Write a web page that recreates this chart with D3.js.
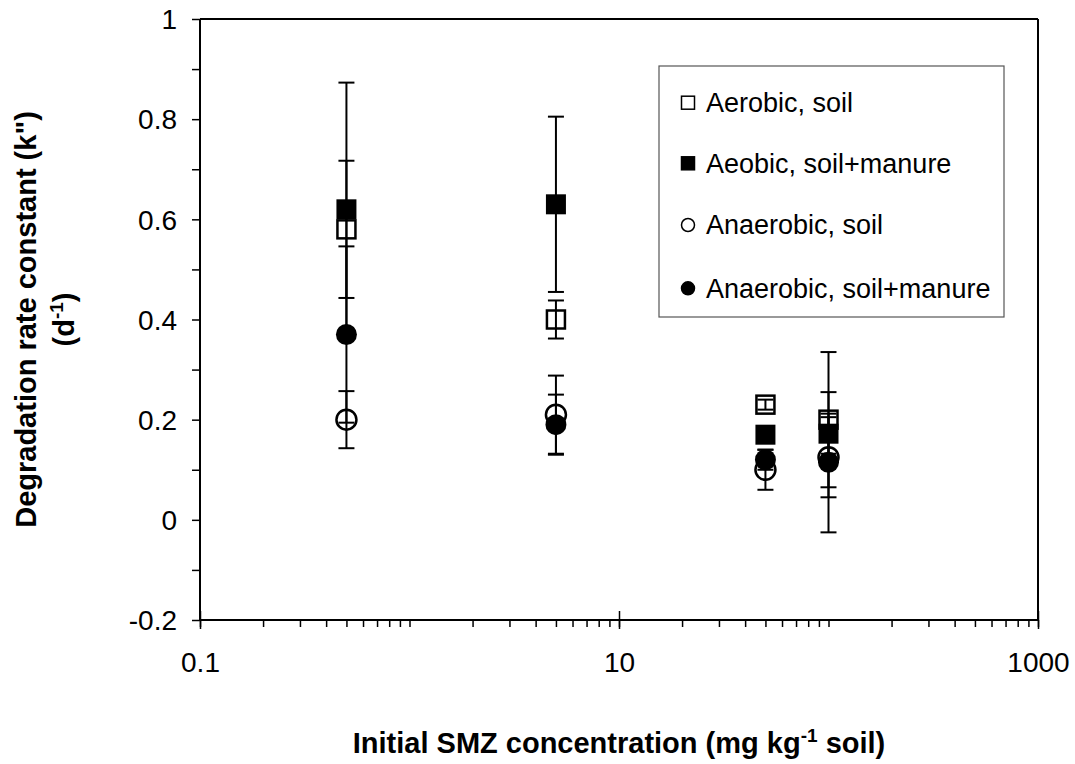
<!DOCTYPE html>
<html>
<head>
<meta charset="utf-8">
<script src="https://cdn.jsdelivr.net/npm/d3@7"></script>
<style>
  html, body { margin: 0; padding: 0; background: #fff; }
  svg { display: block; }
  text { font-family: "Liberation Sans", Arial, sans-serif; fill: #000; }
</style>
</head>
<body>
<svg id="chart" width="1075" height="764"></svg>
<script>
// ---- data ----
const concentrations = [0.5, 5, 50, 100];
const seriesNames = ["Aerobic, soil", "Aeobic, soil+manure", "Anaerobic, soil", "Anaerobic, soil+manure"];
const aerobicSoil = [0.58, 0.40, 0.23, 0.20];
const aerobicSoilErr = [0.137, 0.038, 0.01, 0.135];
const aerobicManure = [0.62, 0.63, 0.17, 0.172];
const aerobicManureErr = [0.253, 0.175, 0.015, 0.04];
const anaerobicSoil = [0.20, 0.21, 0.10, 0.125];
const anaerobicSoilErr = [0.057, 0.078, 0.04, 0.08];
const anaerobicManure = [0.37, 0.19, 0.12, 0.115];
const anaerobicManureErr = [0.176, 0.06, 0.02, 0.14];
const xTickLabels = [0.1, 10, 1000];
const yTickLabels = [-0.2, 0, 0.2, 0.4, 0.6, 0.8, 1];

const seriesValues = [aerobicSoil, aerobicManure, anaerobicSoil, anaerobicManure];
const seriesErrors = [aerobicSoilErr, aerobicManureErr, anaerobicSoilErr, anaerobicManureErr];
const seriesShapes = ["square", "square", "circle", "circle"];
const seriesFilled = [false, true, false, true];

// ---- layout ----
const svg = d3.select("#chart");
const pL = 200, pR = 1038, pT = 19, pB = 620;
const x = d3.scaleLog().domain([0.1, 1000]).range([pL, pR]);
const y = d3.scaleLinear().domain([-0.2, 1]).range([pB, pT]);

// plot frame (top & right)
svg.append("line").attr("x1", pL).attr("x2", pR).attr("y1", pT).attr("y2", pT)
  .attr("stroke", "#000").attr("stroke-width", 2);
svg.append("line").attr("x1", pR).attr("x2", pR).attr("y1", pT).attr("y2", pB)
  .attr("stroke", "#000").attr("stroke-width", 2);

// y axis
const yTicks = d3.range(-2, 11).map(d => d / 10);
const yAxis = d3.axisLeft(y).tickValues(yTicks).tickSize(8).tickPadding(15)
  .tickFormat(d => yTickLabels.some(v => Math.abs(v - d) < 1e-9) ? String(+d.toFixed(1)) : "");
const gy = svg.append("g").attr("transform", `translate(${pL},0)`).call(yAxis);
gy.select(".domain").attr("stroke", "#000").attr("stroke-width", 2).attr("d", `M0,${pT}V${pB}`);
gy.selectAll(".tick line").attr("stroke", "#000").attr("stroke-width", 1.5);
gy.selectAll(".tick text").style("font-size", "28px").attr("dy", "0.35em");

// x axis
const minor = [];
for (let e = -1; e < 3; e++) for (let m = 1; m < 10; m++) minor.push(m * Math.pow(10, e));
minor.push(1000);
const xAxis = d3.axisBottom(x).tickValues(minor).tickSize(7).tickPadding(0)
  .tickFormat(d => xTickLabels.some(v => Math.abs(v - d) / v < 1e-6) ? String(d) : "");
const gx = svg.append("g").attr("transform", `translate(0,${pB})`).call(xAxis);
gx.select(".domain").attr("stroke", "#000").attr("stroke-width", 2).attr("d", `M${pL},0H${pR}`);
gx.selectAll(".tick line").attr("stroke", "#000").attr("stroke-width", 1.5);
gx.selectAll(".tick text").style("font-size", "28px").attr("y", 52).attr("dy", 0);
gx.selectAll(".tick").filter(d => xTickLabels.some(v => Math.abs(v - d) / v < 1e-6))
  .append("line").attr("y1", -9).attr("y2", 9).attr("stroke", "#000").attr("stroke-width", 1.5);

// ---- series ----
const capW = 8;
const mSize = 20;
seriesValues.forEach((vals, s) => {
  const g = svg.append("g");
  const pts = concentrations.map((c, i) => ({ c, v: vals[i], e: seriesErrors[s][i] }));
  const eb = g.selectAll(".eb").data(pts).join("g");
  eb.append("line").attr("x1", d => x(d.c)).attr("x2", d => x(d.c))
    .attr("y1", d => y(d.v + d.e)).attr("y2", d => y(d.v - d.e))
    .attr("stroke", "#000").attr("stroke-width", 2);
  [1, -1].forEach(sg => {
    eb.append("line").attr("x1", d => x(d.c) - capW).attr("x2", d => x(d.c) + capW)
      .attr("y1", d => y(d.v + sg * d.e)).attr("y2", d => y(d.v + sg * d.e))
      .attr("stroke", "#000").attr("stroke-width", 2);
  });
  if (seriesShapes[s] === "square") {
    const sz = seriesFilled[s] ? mSize : mSize - 2;
    g.selectAll(".m").data(pts).join("rect")
      .attr("x", d => x(d.c) - sz / 2).attr("y", d => y(d.v) - sz / 2)
      .attr("width", sz).attr("height", sz)
      .attr("fill", seriesFilled[s] ? "#000" : "none")
      .attr("stroke", "#000").attr("stroke-width", seriesFilled[s] ? 0 : 2.5);
  } else {
    const r = seriesFilled[s] ? mSize / 2 + 0.5 : mSize / 2;
    g.selectAll(".m").data(pts).join("circle")
      .attr("cx", d => x(d.c)).attr("cy", d => y(d.v)).attr("r", r)
      .attr("fill", seriesFilled[s] ? "#000" : "none")
      .attr("stroke", "#000").attr("stroke-width", seriesFilled[s] ? 0 : 2.5);
  }
});

// ---- legend ----
const lg = svg.append("g");
lg.append("rect").attr("x", 659).attr("y", 66).attr("width", 345).attr("height", 251)
  .attr("fill", "#fff").attr("stroke", "#555").attr("stroke-width", 1.2);
const legendY = [102.7, 163.3, 225, 288.3];
seriesNames.forEach((name, s) => {
  const cy = legendY[s], cx = 688, ls = 13;
  if (seriesShapes[s] === "square") {
    lg.append("rect").attr("x", cx - ls / 2).attr("y", cy - ls / 2).attr("width", ls).attr("height", ls)
      .attr("fill", seriesFilled[s] ? "#000" : "#fff").attr("stroke", "#000").attr("stroke-width", 1.5);
  } else {
    lg.append("circle").attr("cx", cx).attr("cy", cy).attr("r", ls / 2)
      .attr("fill", seriesFilled[s] ? "#000" : "#fff").attr("stroke", "#000").attr("stroke-width", 1.5);
  }
  lg.append("text").attr("x", 706).attr("y", cy).attr("dy", "0.35em")
    .style("font-size", "27px").text(name);
});

// ---- axis titles ----
const xt = svg.append("text").attr("x", (pL + pR) / 2).attr("y", 753)
  .attr("text-anchor", "middle").style("font-size", "29px").style("font-weight", "bold");
xt.append("tspan").text("Initial SMZ concentration (mg kg");
xt.append("tspan").attr("dy", -11).style("font-size", "19px").text("-1");
xt.append("tspan").attr("dy", 11).text(" soil)");

const cyT = (pT + pB) / 2;
svg.append("text").attr("transform", `translate(36,${cyT}) rotate(-90)`)
  .attr("text-anchor", "middle").style("font-size", "29px").style("font-weight", "bold")
  .text("Degradation rate constant (k\")");
const yt2 = svg.append("text").attr("transform", `translate(74,${cyT}) rotate(-90)`)
  .attr("text-anchor", "middle").style("font-size", "29px").style("font-weight", "bold");
yt2.append("tspan").text("(d");
yt2.append("tspan").attr("dy", -11).style("font-size", "19px").text("-1");
yt2.append("tspan").attr("dy", 11).text(")");
</script>
</body>
</html>
